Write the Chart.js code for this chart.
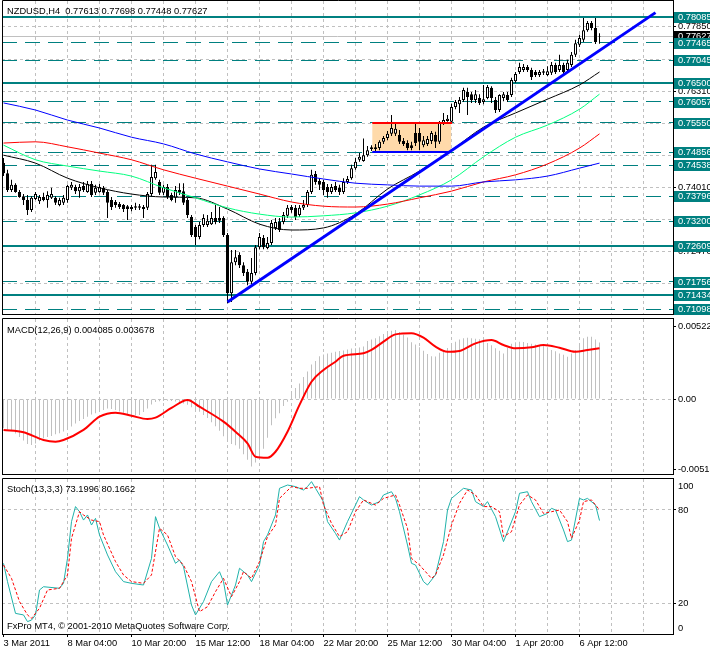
<!DOCTYPE html>
<html><head><meta charset="utf-8">
<script src="https://cdn.jsdelivr.net/npm/chart.js@4.4.1/dist/chart.umd.min.js"></script>
<style>
html,body{margin:0;padding:0;background:#fff;}
#wrap{position:relative;width:710px;height:651px;overflow:hidden;background:#fff;}
canvas{position:absolute;left:0;}
</style></head><body>
<div id="wrap">
<canvas id="cMain" width="710" height="316" style="top:0px"></canvas>
<canvas id="cMacd" width="710" height="158" style="top:317px"></canvas>
<canvas id="cStoch" width="710" height="174" style="top:477px"></canvas>
</div>
<script>
// ---------------- DATA ----------------
const titleText = 'NZDUSD,H4  0.77613 0.77698 0.77448 0.77627';
const macdText = 'MACD(12,26,9) 0.004085 0.003678';
const stochText = 'Stoch(13,3,3) 73.1996 80.1662';
const copyText = 'FxPro MT4, \u00A9 2001-2010 MetaQuotes Software Corp.';

const timeLabels = ['3 Mar 2011','8 Mar 04:00','10 Mar 20:00','15 Mar 12:00','18 Mar 04:00','22 Mar 20:00','25 Mar 12:00','30 Mar 04:00','1 Apr 20:00','6 Apr 12:00'];
const labelBars = [0,16,32,48,64,80,96,112,128,144];
const gridBars = [8,16,24,32,40,48,56,64,72,80,88,96,104,112,120,128,136,144,152,160];

const priceTicks = [0.7785,0.7708,0.7631,0.7554,0.7477,0.7401,0.7324,0.7247,0.7170];
const solidLevels = [0.78085,0.76500,0.72609,0.71434];
const dashLevels = [0.77465,0.77045,0.76057,0.75550,0.74856,0.74538,0.73796,0.73200,0.71756,0.71098];
const bidPrice = 0.77627;

const open = [.7459,.7435,.7395,.7407,.7390,.7380,.7371,.7347,.7373,.7368,
.7378,.7371,.7376,.7376,.7359,.7364,.7371,.7400,.7402,.7392,
.7404,.7390,.7409,.7388,.7390,.7400,.7390,.7371,.7366,.7361,
.7359,.7356,.7354,.7356,.7356,.7354,.7352,.7385,.7423,.7414,
.7388,.7402,.7383,.7376,.7395,.7392,.7371,.7330,.7306,.7282,
.7311,.7311,.7313,.7328,.7328,.7328,.7287,.7148,.7222,.7239,
.7215,.7199,.7175,.7196,.7258,.7280,.7256,.7268,.7304,.7318,
.7318,.7333,.7354,.7352,.7335,.7352,.7359,.7390,.7433,.7416,
.7414,.7402,.7390,.7404,.7400,.7390,.7414,.7423,.7447,.7467,
.7464,.7478,.7497,.7497,.7495,.7510,.7519,.7529,.7529,.7526,
.7512,.7507,.7502,.7531,.7531,.7502,.7505,.7512,.7526,.7510,
.7555,.7560,.7558,.7593,.7600,.7610,.7629,.7624,.7610,.7615,
.7605,.7615,.7639,.7610,.7586,.7615,.7622,.7622,.7655,.7677,
.7682,.7689,.7682,.7677,.7670,.7675,.7670,.7675,.7694,.7682,
.7694,.7682,.7694,.7718,.7742,.7754,.7777,.7794,.7782,.77613];
const high = [.7471,.7443,.7419,.7411,.7395,.7385,.7383,.7380,.7390,.7383,
.7388,.7392,.7400,.7380,.7376,.7383,.7407,.7414,.7407,.7409,
.7414,.7416,.7416,.7407,.7409,.7404,.7395,.7378,.7371,.7366,
.7361,.7359,.7359,.7364,.7361,.7359,.7390,.7455,.7455,.7419,
.7407,.7409,.7388,.7404,.7411,.7411,.7376,.7335,.7311,.7318,
.7337,.7335,.7342,.7359,.7354,.7332,.7292,.7251,.7251,.7246,
.7222,.7206,.7232,.7263,.7292,.7287,.7282,.7323,.7328,.7328,
.7342,.7359,.7359,.7359,.7359,.7371,.7395,.7443,.7440,.7423,
.7419,.7409,.7409,.7414,.7407,.7423,.7428,.7455,.7471,.7483,
.7518,.7500,.7502,.7505,.7514,.7524,.7536,.7574,.7553,.7538,
.7519,.7514,.7510,.7553,.7543,.7524,.7524,.7536,.7534,.7560,
.7579,.7574,.7601,.7610,.7617,.7639,.7639,.7629,.7634,.7624,
.7646,.7646,.7643,.7617,.7624,.7629,.7629,.7663,.7677,.7699,
.7696,.7694,.7687,.7682,.7682,.7684,.7691,.7701,.7699,.7718,
.7699,.7706,.7725,.7754,.7766,.7806,.7799,.7799,.7806,.77698];
const low = [.7428,.7390,.7390,.7388,.7376,.7359,.7335,.7342,.7371,.7361,
.7368,.7352,.7373,.7359,.7356,.7359,.7364,.7395,.7385,.7376,
.7390,.7388,.7378,.7383,.7388,.7383,.7328,.7347,.7352,.7349,
.7342,.7323,.7344,.7347,.7347,.7328,.7347,.7380,.7419,.7383,
.7383,.7373,.7368,.7364,.7383,.7359,.7328,.7282,.7263,.7277,
.7306,.7306,.7311,.7313,.7316,.7282,.7124,.7127,.7215,.7208,
.7189,.7167,.7170,.7191,.7253,.7253,.7253,.7263,.7299,.7294,
.7313,.7328,.7340,.7323,.7330,.7347,.7354,.7385,.7407,.7395,
.7383,.7376,.7385,.7390,.7383,.7385,.7409,.7419,.7443,.7462,
.7462,.7474,.7488,.7488,.7490,.7505,.7514,.7524,.7524,.7505,
.7500,.7490,.7490,.7500,.7490,.7497,.7500,.7505,.7495,.7505,
.7550,.7558,.7553,.7588,.7579,.7605,.7574,.7603,.7603,.7598,
.7600,.7612,.7603,.7579,.7581,.7607,.7605,.7617,.7651,.7672,
.7677,.7677,.7658,.7665,.7665,.7670,.7667,.7670,.7672,.7677,
.7672,.7677,.7689,.7713,.7737,.7749,.7773,.7777,.7744,.77448];
const close = [.7435,.7395,.7407,.7390,.7378,.7371,.7347,.7376,.7385,.7378,
.7371,.7383,.7385,.7364,.7371,.7376,.7404,.7407,.7392,.7402,
.7395,.7409,.7383,.7400,.7402,.7388,.7364,.7354,.7359,.7354,
.7349,.7349,.7349,.7352,.7352,.7349,.7385,.7426,.7438,.7388,
.7402,.7378,.7371,.7395,.7388,.7364,.7335,.7287,.7282,.7311,
.7328,.7321,.7328,.7318,.7321,.7287,.7148,.7222,.7234,.7215,
.7196,.7175,.7196,.7258,.7282,.7258,.7268,.7316,.7318,.7299,
.7335,.7352,.7347,.7330,.7352,.7359,.7390,.7431,.7414,.7407,
.7395,.7390,.7402,.7395,.7390,.7414,.7421,.7447,.7462,.7474,
.7478,.7490,.7493,.7493,.7510,.7519,.7529,.7543,.7541,.7510,
.7505,.7495,.7495,.7507,.7510,.7514,.7517,.7531,.7510,.7555,
.7562,.7565,.7593,.7605,.7610,.7634,.7617,.7610,.7624,.7603,
.7612,.7641,.7615,.7586,.7622,.7624,.7610,.7658,.7672,.7689,
.7689,.7682,.7665,.7670,.7677,.7679,.7679,.7694,.7677,.7694,
.7677,.7699,.7718,.7746,.7758,.7777,.7794,.7782,.7749,.77627];

const maIdx   = [0,8,16,24,32,40,48,56,64,72,80,88,96,104,112,120,128,136,144,149];
const maBlue  = [.7603,.7586,.7562,.7543,.7521,.7505,.7481,.7462,.7445,.7433,.7421,.7411,.7407,.7404,.7404,.7414,.7419,.7428,.7447,.7459];
const maRed   = [.7507,.7510,.7498,.7483,.7467,.7443,.7423,.7404,.7385,.7366,.7356,.7354,.7361,.7376,.7392,.7414,.7431,.7457,.7495,.7529];
const maGreen = [.7502,.7467,.7452,.7440,.7428,.7400,.7376,.7352,.7337,.7330,.7333,.7340,.7356,.7383,.7419,.7474,.7521,.7550,.7588,.7624];
const maBlack = [.7478,.7459,.7423,.7400,.7385,.7378,.7376,.7349,.7313,.7299,.7304,.7337,.7397,.7440,.7490,.7545,.7579,.7612,.7646,.7677];

const trendIdx = [56,163];
const trendPrice = [0.7127,0.7819];
const boxBars = [92.2,111.9];
const boxPrices = [0.74860,0.75550];

const macdHist = [-0.00212,-0.00220,-0.00232,-0.00250,-0.00275,-0.00300,-0.00325,-0.00333,-0.00322,-0.00300,
-0.00285,-0.00275,-0.00268,-0.00255,-0.00248,-0.00236,-0.00224,-0.00200,-0.00178,-0.00160,
-0.00145,-0.00128,-0.00112,-0.00104,-0.00094,-0.00080,-0.00068,-0.00072,-0.00080,-0.00090,
-0.00100,-0.00110,-0.00116,-0.00118,-0.00116,-0.00095,-0.00068,-0.00040,-0.00022,-0.00016,
-0.00014,-0.00012,-0.00014,-0.00018,-0.00024,-0.00032,-0.00042,-0.00060,-0.00080,-0.00092,
-0.00115,-0.00138,-0.00168,-0.00198,-0.00230,-0.00270,-0.00300,-0.00325,-0.00335,-0.00360,
-0.00400,-0.00440,-0.00489,-0.00460,-0.00420,-0.00360,-0.00280,-0.00190,-0.00140,-0.00104,
-0.00050,-0.00020,0.00040,0.00080,0.00113,0.00160,0.00200,0.00250,0.00275,0.00310,
0.00322,0.00330,0.00335,0.00342,0.00348,0.00352,0.00358,0.00366,0.00368,0.00372,
0.00380,0.00420,0.00430,0.00440,0.00455,0.00470,0.00485,0.00495,0.00499,0.00485,
0.00465,0.00445,0.00410,0.00395,0.00375,0.00350,0.00325,0.00310,0.00308,0.00335,
0.00345,0.00370,0.00390,0.00415,0.00430,0.00440,0.00443,0.00440,0.00436,0.00432,
0.00420,0.00405,0.00390,0.00368,0.00350,0.00330,0.00370,0.00400,0.00410,0.00415,
0.00412,0.00405,0.00400,0.00395,0.00390,0.00385,0.00375,0.00355,0.00345,0.00330,
0.00320,0.00306,0.00330,0.00354,0.00400,0.00440,0.00451,0.00450,0.00430,0.00409];
const sigIdx = [0,5,10,13,15,20,24,28,32,36,38,42,46,49,55,58,61,63,66,68,71,74,77,80,83,85,90,92,95,98,102,105,108,111,114,118,122,125,128,132,135,139,143,146,149];
const sigVal = [-0.00224,-0.00241,-0.00297,-0.00309,-0.00297,-0.00224,-0.00128,-0.00099,-0.00121,-0.00145,-0.00135,-0.00065,-0.00007,-0.00056,-0.00164,-0.00237,-0.00321,-0.00418,-0.00425,-0.00382,-0.00237,-0.00043,0.00125,0.00210,0.00270,0.00313,0.00331,0.00355,0.00415,0.00468,0.00476,0.00444,0.00379,0.00342,0.00348,0.00403,0.00427,0.00391,0.00367,0.00374,0.00391,0.00371,0.00342,0.00355,0.00368];
const macdTicks = [0.00522,0,-0.00513];

const stochIdx = [0,1,3,5,6,7,8,9,10,14,15,16,17,18,19,20,21,22,23,24,26,28,30,32,35,37,38,39,41,43,44,45,47,48,50,52,54,55,56,58,59,61,62,64,65,66,68,69,71,73,75,76,77,78,80,81,83,84,86,88,89,90,92,94,95,97,98,99,101,102,103,105,106,108,110,111,112,115,117,118,120,121,123,125,126,128,129,131,132,134,136,137,138,140,141,142,144,145,146,148,149];
const stochMain = [45.6,33.8,13.3,12.3,8.0,9.0,12.3,28.4,30.5,29.5,32.7,48.8,72.5,82.2,78.9,73.5,76.8,70.3,74.6,63.9,51.0,40.2,33.8,32.7,31.6,48.8,75.7,68.2,57.4,45.6,47.7,43.4,18.7,12.3,20.9,33.8,40.2,33.8,18.7,31.6,42.4,38.1,33.8,44.5,59.6,63.9,76.8,94.0,96.1,95.1,92.9,95.1,98.3,94.0,85.4,72.5,64.9,60.6,72.5,83.2,88.6,86.5,83.2,85.4,89.7,91.8,87.5,78.9,57.4,45.6,44.5,33.8,31.6,38.1,59.6,80.0,87.5,94.0,92.9,85.4,82.2,85.4,75.7,59.6,66.0,78.9,90.8,91.8,85.4,75.7,77.8,81.1,80.0,67.1,59.6,60.6,87.5,86.5,87.5,83.2,73.2];
const stochSigIdx = [0,2,4,6,7,9,11,14,16,17,19,20,22,24,25,28,30,32,35,37,39,41,43,45,47,49,51,53,55,57,59,60,62,64,66,68,69,72,74,76,79,80,82,84,86,88,90,91,93,95,98,99,101,102,104,107,108,110,112,114,116,118,120,122,124,125,127,129,131,133,135,137,139,141,142,144,145,147,149];
const stochSig = [44.5,35.9,20.9,12.3,10.1,16.6,28.4,29.5,38.1,61.7,78.9,76.8,73.5,72.5,63.9,46.7,38.1,33.8,32.7,38.1,68.2,63.9,49.9,44.5,33.8,14.4,17.6,27.3,35.9,24.1,33.8,40.2,35.9,46.7,62.8,70.3,87.5,95.1,94.0,94.0,95.1,83.2,71.4,62.8,66.0,78.9,86.5,85.4,83.2,87.5,89.7,83.2,68.2,48.8,44.5,35.9,38.1,51.0,70.3,84.3,92.9,89.7,82.2,82.2,78.9,62.8,66.0,83.2,89.7,86.5,77.8,78.9,80.0,72.5,61.7,73.5,85.4,86.5,80.0];
const stochTicks = [20,80];

// ---------------- STYLE ----------------
const FAM = '"Liberation Sans", Arial, sans-serif';
const FS = 9.3;
const FONT = FS + 'px ' + FAM;
const TEAL = '#008080';
const GRID = '#C0C0C0';
const NONE = 'rgba(0,0,0,0)';
const XMIN = -0.375, XMAX = 167.375;

Chart.defaults.font.family = FAM;
Chart.defaults.font.size = FS;

function hiddenX() {
  return {
    type:'linear', min:XMIN, max:XMAX, offset:false,
    afterBuildTicks: s => { s.ticks = gridBars.map(v => ({value:v})); },
    afterFit: s => { s.height = 0; s.paddingLeft = 0; s.paddingRight = 0; },
    grid: { color: GRID, offset:false, drawTicks:false, lineWidth:1 },
    border: { display:false, dash:[3,3] },
    ticks: { display:false }
  };
}
function rightY(min, max, ticks, cb, gridColor) {
  return {
    position:'right', min:min, max:max,
    afterBuildTicks: s => { s.ticks = ticks.map(v => ({value:v})); },
    afterFit: s => { s.width = 37; s.paddingTop = 0; s.paddingBottom = 0; },
    grid: { color: gridColor, lineWidth:1, drawTicks:true, tickLength:3, tickColor:'#000', tickWidth:1 },
    border: { display:true, color:'#000', width:1, dash:[3,3] },
    ticks: { color:'#000', padding:2, font:{family:FAM, size:FS}, callback: cb }
  };
}
function baseOpts(pad, x, y, plugins) {
  return {
    responsive:false, animation:false, events:[],
    layout:{ padding: pad },
    plugins:{ legend:{display:false}, tooltip:{enabled:false}, title:{display:false} },
    scales:{ x:x, y:y }
  };
}
const framePlugin = {
  id:'frame',
  afterDraw(chart) {
    const {ctx, chartArea:a} = chart;
    ctx.save();
    ctx.strokeStyle = '#000'; ctx.lineWidth = 1; ctx.setLineDash([]);
    ctx.beginPath();
    ctx.moveTo(a.left + 0.5, a.top - 0.5); ctx.lineTo(a.right + 1, a.top - 0.5);
    ctx.moveTo(a.left + 0.5, a.top - 0.5); ctx.lineTo(a.left + 0.5, a.bottom + 1);
    ctx.moveTo(a.left, a.bottom + 0.5); ctx.lineTo(a.right + 1, a.bottom + 0.5);
    ctx.stroke();
    ctx.restore();
  }
};
function textAt(ctx, t, x, y, color, align) {
  ctx.fillStyle = color || '#000';
  ctx.font = FONT;
  ctx.textAlign = align || 'left';
  ctx.textBaseline = 'middle';
  ctx.fillText(t, x, y);
}

// ---------------- MAIN PRICE CHART ----------------
const pts = (ix, vals) => ix.map((v, k) => ({x:v, y:vals[k]}));
const bodyData = open.map((o, i) => ({x:i, y:[o, close[i]]}));
const wickData = open.map((o, i) => ({x:i, y:[low[i], high[i]]}));
const bodyColors = open.map((o, i) => close[i] >= o ? '#FFFFFF' : '#000000');

const mainObjects = {
  id:'mainObjects',
  beforeDatasetsDraw(chart) {
    const {ctx, chartArea:a, scales:{x, y}} = chart;
    ctx.save();
    ctx.beginPath(); ctx.rect(a.left, a.top, a.right - a.left, a.bottom - a.top); ctx.clip();
    const rx1 = x.getPixelForValue(boxBars[0]), rx2 = x.getPixelForValue(boxBars[1]);
    const ry1 = y.getPixelForValue(boxPrices[1]), ry2 = y.getPixelForValue(boxPrices[0]);
    ctx.fillStyle = '#FFDAAA';
    ctx.fillRect(rx1, ry1, rx2 - rx1, ry2 - ry1);
    ctx.fillStyle = TEAL;
    solidLevels.forEach(p => { const py = Math.round(y.getPixelForValue(p)); ctx.fillRect(a.left, py - 1, a.right - a.left, 2); });
    ctx.strokeStyle = TEAL; ctx.lineWidth = 1; ctx.setLineDash([15, 8]);
    dashLevels.forEach(p => { const py = Math.floor(y.getPixelForValue(p)) + 0.5; ctx.beginPath(); ctx.moveTo(a.left, py); ctx.lineTo(a.right, py); ctx.stroke(); });
    ctx.setLineDash([]);
    ctx.strokeStyle = GRID;
    const by = Math.floor(y.getPixelForValue(bidPrice)) + 0.5;
    ctx.beginPath(); ctx.moveTo(a.left, by); ctx.lineTo(a.right, by); ctx.stroke();
    ctx.restore();
  },
  afterDatasetsDraw(chart) {
    const {ctx, chartArea:a, scales:{x, y}} = chart;
    ctx.save();
    const rx1 = x.getPixelForValue(boxBars[0]), rx2 = x.getPixelForValue(boxBars[1]);
    const ty = Math.round(y.getPixelForValue(boxPrices[1]));
    const bt = Math.round(y.getPixelForValue(boxPrices[0]));
    ctx.fillStyle = '#FF0000'; ctx.fillRect(rx1, ty - 1, rx2 - rx1 + 1, 2);
    ctx.fillStyle = '#0000FF'; ctx.fillRect(rx1, bt - 1, rx2 - rx1 - 1, 2);
    ctx.restore();
  },
  afterDraw(chart) {
    const {ctx, scales:{y}} = chart;
    ctx.save();
    const box = (p, bg, fg) => {
      const py = Math.round(y.getPixelForValue(p));
      ctx.fillStyle = bg; ctx.fillRect(674, py - 5, 36, 11);
      textAt(ctx, p.toFixed(5), 678, py + 0.5, fg);
    };
    box(bidPrice, '#000000', '#FFFFFF');
    solidLevels.concat(dashLevels).forEach(p => box(p, TEAL, '#FFFFFF'));
    textAt(ctx, titleText, 7, 11, '#000');
    ctx.restore();
  }
};

new Chart(document.getElementById('cMain'), {
  type:'bar',
  data:{ datasets:[
    {type:'line', data: pts(trendIdx, trendPrice), borderColor:'#0000FF', borderWidth:3, pointRadius:0, order:0},
    {type:'line', data: pts(maIdx, maBlue), borderColor:'#0000FF', borderWidth:1, pointRadius:0, cubicInterpolationMode:'monotone', order:1},
    {type:'line', data: pts(maIdx, maRed), borderColor:'#FF0000', borderWidth:1, pointRadius:0, cubicInterpolationMode:'monotone', order:1},
    {type:'line', data: pts(maIdx, maGreen), borderColor:'#00FF7F', borderWidth:1, pointRadius:0, cubicInterpolationMode:'monotone', order:1},
    {type:'line', data: pts(maIdx, maBlack), borderColor:'#000000', borderWidth:1, pointRadius:0, cubicInterpolationMode:'monotone', order:1},
    {type:'bar', data: bodyData, backgroundColor: bodyColors, borderColor:'#000000', borderWidth:1, borderSkipped:false, barThickness:3, grouped:false, inflateAmount:0, order:5},
    {type:'bar', data: wickData, backgroundColor:'#000000', borderWidth:0, barThickness:1, grouped:false, inflateAmount:0, order:6}
  ]},
  options: baseOpts({left:2, top:1, right:0, bottom:2}, hiddenX(),
    rightY(0.70981, 0.78468, priceTicks, v => v.toFixed(5), GRID)),
  plugins:[mainObjects, framePlugin]
});

// ---------------- MACD ----------------
const macdPlugin = {
  id:'macdText',
  afterDraw(chart) { const {ctx} = chart; ctx.save(); textAt(ctx, macdText, 7, 13, '#000'); ctx.restore(); }
};
new Chart(document.getElementById('cMacd'), {
  type:'bar',
  data:{ datasets:[
    {type:'line', data: pts(sigIdx, sigVal), borderColor:'#FF0000', borderWidth:2, pointRadius:0, cubicInterpolationMode:'monotone', order:0},
    {type:'bar', data: macdHist.map((v, i) => ({x:i, y:v})), backgroundColor:GRID, borderWidth:0, barThickness:1, grouped:false, inflateAmount:0, order:2}
  ]},
  options: baseOpts({left:2, top:2, right:0, bottom:1}, hiddenX(),
    rightY(-0.00543, 0.005792, macdTicks, v => v === 0 ? '0.00' : v.toFixed(5), c => (c.tick && c.tick.value === 0) ? GRID : NONE)),
  plugins:[macdPlugin, framePlugin]
});

// ---------------- STOCHASTIC ----------------
const stochPlugin = {
  id:'stochText',
  afterDraw(chart) {
    const {ctx, scales:{y}} = chart;
    ctx.save();
    textAt(ctx, stochText, 7, 12, '#000');
    textAt(ctx, copyText, 7, 149, '#000');
    textAt(ctx, '100', 678, Math.round(y.getPixelForValue(100)) + 7, '#000');
    textAt(ctx, '0', 678, Math.round(y.getPixelForValue(0)) - 6, '#000');
    ctx.restore();
  }
};
const stochX = {
  type:'linear', min:XMIN, max:XMAX, offset:false,
  afterBuildTicks: s => { s.ticks = [0].concat(gridBars).map(v => ({value:v})); },
  afterFit: s => { s.height = 17; s.paddingLeft = 0; s.paddingRight = 0; },
  grid: { color: c => (c.tick && c.tick.value === 0) ? NONE : GRID, offset:false, lineWidth:1, drawTicks:true, tickLength:3,
          tickColor: c => (c.tick && labelBars.includes(c.tick.value)) ? '#000' : NONE },
  border: { display:true, color:'#000', width:1, dash:[3,3] },
  ticks: { display:true, autoSkip:false, maxRotation:0, minRotation:0, align:'start', padding:1, color:'#000',
           font:{family:FAM, size:FS},
           callback: v => { const k = labelBars.indexOf(v); return k >= 0 ? timeLabels[k] : ''; } }
};
new Chart(document.getElementById('cStoch'), {
  type:'line',
  data:{ datasets:[
    {data: pts(stochIdx, stochMain), borderColor:'#20B2AA', borderWidth:1, pointRadius:0, tension:0, order:1},
    {data: pts(stochSigIdx, stochSig), borderColor:'#FF0000', borderWidth:1, borderDash:[3,2], pointRadius:0, tension:0, order:0}
  ]},
  options: baseOpts({left:2, top:2, right:0, bottom:0}, stochX,
    rightY(0, 100, stochTicks, v => String(v), GRID)),
  plugins:[stochPlugin, framePlugin]
});
</script>
</body></html>
